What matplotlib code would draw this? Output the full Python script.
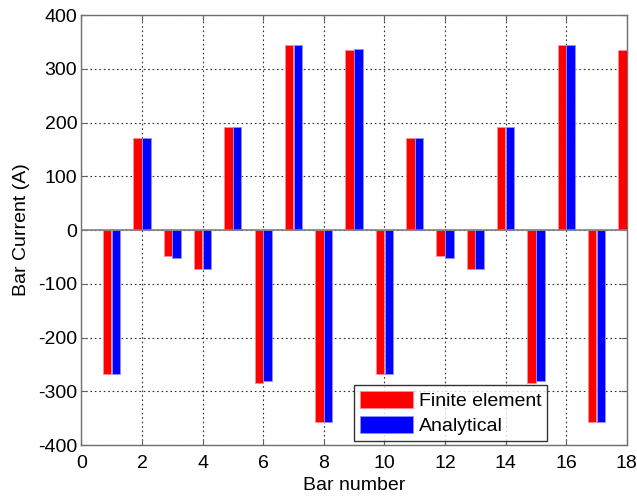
import matplotlib
matplotlib.use("Agg")
import matplotlib.pyplot as plt
import numpy as np

plt.rcParams['font.family'] = ['Liberation Sans', 'DejaVu Sans']
plt.rcParams['axes.unicode_minus'] = False

bars = np.arange(1, 19)
finite_element = [-267, 172, -49, -73, 192, -284, 344, -358, 335,
                  -267, 172, -49, -73, 192, -284, 344, -358, 335]
analytical = [-267, 172, -53, -73, 191, -281, 344, -358, 337,
              -267, 172, -53, -73, 191, -281, 344, -358, 337]

fig = plt.figure(figsize=(6.37, 4.97), dpi=100)
ax = fig.add_axes([0.1277, 0.1046, 0.8563, 0.8652])

w = 0.28
ax.bar(bars - 0.145, finite_element, width=w, color='#ff0000',
       edgecolor='#ff9090', linewidth=0.6, label='Finite element', zorder=3)
ax.bar(bars + 0.145, analytical, width=w, color='#0000ff',
       edgecolor='#9090ff', linewidth=0.6, label='Analytical', zorder=3)

ax.axhline(0, color='#808080', linewidth=1.2, zorder=4)

ax.set_xlim(0, 18)
ax.set_ylim(-400, 400)
ax.set_xticks(np.arange(0, 19, 2))
ax.set_yticks(np.arange(-400, 401, 100))
ax.grid(True, linestyle=(0, (1.5, 2.5)), color='#303030', linewidth=0.8, zorder=0)
ax.set_axisbelow(True)

ax.tick_params(direction='in', length=4, width=0.8, color='#606060',
               labelsize=14, top=True, right=True, pad=3)
ax.tick_params(axis='x', pad=7)
for s in ax.spines.values():
    s.set_color('#707070')
    s.set_linewidth(1.0)

ax.set_xlabel('Bar number', fontsize=14, labelpad=4)
ax.set_ylabel('Bar Current (A)', fontsize=14, labelpad=6)

leg = ax.legend(loc='lower right', bbox_to_anchor=(0.861, 0.0), fontsize=14,
                frameon=True, fancybox=False, edgecolor='black',
                handlelength=2.7, handleheight=1.0, handletextpad=0.3,
                labelspacing=0.3, borderpad=0.3, borderaxespad=0.2)
leg.get_frame().set_linewidth(1.0)

fig.savefig('out.png', dpi=100)
